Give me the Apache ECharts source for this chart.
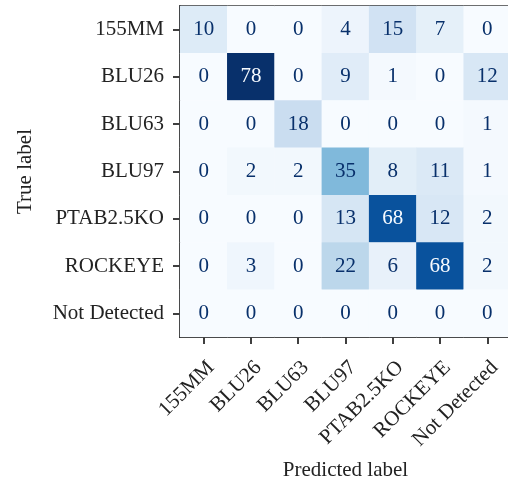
<!DOCTYPE html>
<html>
<head>
<meta charset="utf-8">
<script src="https://cdn.jsdelivr.net/npm/echarts@6/dist/echarts.min.js"></script>
<style>html,body{margin:0;padding:0;background:#fff}#c{width:508px;height:482px}</style>
</head>
<body>
<div id="c"></div>
<script>
const categories = ['155MM','BLU26','BLU63','BLU97','PTAB2.5KO','ROCKEYE','Not Detected'];
const row155MM = [10,0,0,4,15,7,0];
const rowBLU26 = [0,78,0,9,1,0,12];
const rowBLU63 = [0,0,18,0,0,0,1];
const rowBLU97 = [0,2,2,35,8,11,1];
const rowPTAB = [0,0,0,13,68,12,2];
const rowROCKEYE = [0,3,0,22,6,68,2];
const rowNotDetected = [0,0,0,0,0,0,0];
const rows = [row155MM,rowBLU26,rowBLU63,rowBLU97,rowPTAB,rowROCKEYE,rowNotDetected];

const maxV = Math.max(...rows.flat());
const thresh = maxV / 2;
const data = [];
rows.forEach((r, i) => r.forEach((v, j) => {
  data.push({value: [j, i, v], label: {color: v > thresh ? '#f7fbff' : '#08306b'}});
}));

const font = "'Liberation Serif', 'Times New Roman', serif";
const chart = echarts.init(document.getElementById('c'), null, {renderer: 'canvas'});
chart.setOption({
  backgroundColor: '#fff',
  animation: false,
  grid: {left: 180, top: 6, width: 331, height: 331, outerBoundsMode: 'none', containLabel: false, show: true, borderColor: '#000', borderWidth: 1.5, backgroundColor: 'transparent'},
  xAxis: {
    type: 'category', data: categories,
    name: 'Predicted label', nameLocation: 'middle', nameGap: 123,
    nameTextStyle: {fontFamily: font, fontSize: 21, color: '#222'},
    axisLine: {show: true, lineStyle: {color: '#000', width: 1.5}},
    axisTick: {show: true, alignWithLabel: true, length: 7, lineStyle: {color: '#000', width: 1.5}},
    axisLabel: {rotate: 45, margin: 20, verticalAlign: 'top', fontFamily: font, fontSize: 21, color: '#222', interval: 0},
    splitLine: {show: false}
  },
  yAxis: {
    type: 'category', data: categories, inverse: true,
    name: 'True label', nameLocation: 'middle', nameGap: 144, nameRotate: 90,
    nameTextStyle: {fontFamily: font, fontSize: 21, color: '#222'},
    axisLine: {show: true, lineStyle: {color: '#000', width: 1.5}},
    axisTick: {show: true, alignWithLabel: true, length: 7, lineStyle: {color: '#000', width: 1.5}},
    axisLabel: {margin: 16, fontFamily: font, fontSize: 21, color: '#222', interval: 0},
    splitLine: {show: false}
  },
  visualMap: {
    show: false, min: 0, max: maxV, dimension: 2,
    inRange: {color: ['#f7fbff','#deebf7','#c6dbef','#9ecae1','#6baed6','#4292c6','#2171b5','#08519c','#08306b']}
  },
  series: [{
    type: 'heatmap', data: data,
    label: {show: true, fontFamily: font, fontSize: 21, formatter: p => p.value[2]},
    itemStyle: {borderWidth: 0}
  }]
});
</script>
</body>
</html>
